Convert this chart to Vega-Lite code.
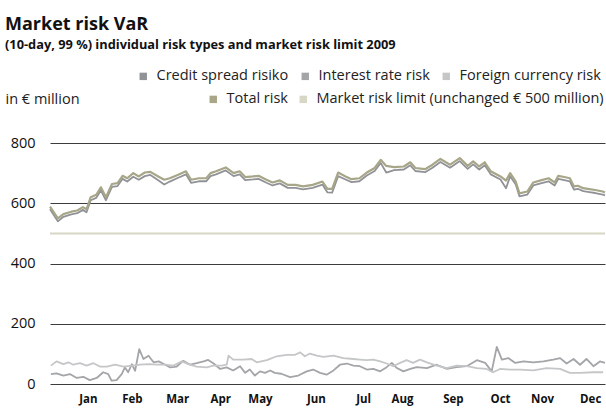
{
  "$schema": "https://vega.github.io/schema/vega-lite/v6.json",
  "autosize": {"type": "none"},
  "width": 555,
  "height": 241,
  "padding": {"left": 50, "top": 143, "right": 1, "bottom": 28},
  "background": "#ffffff",
  "config": {
    "view": {"stroke": null},
    "font": "Open Sans",
    "legend": {"labelFont": "Open Sans", "labelFontSize": 14.5, "labelColor": "#222222", "labelLimit": 400, "symbolType": "square", "symbolSize": 55, "columnPadding": 9, "labelOffset": 6, "padding": 0, "titlePadding": 0}
  },
  "title": {
    "text": "Market risk VaR",
    "subtitle": "(10-day, 99 %) individual risk types and market risk limit 2009",
    "anchor": "start",
    "frame": "group",
    "dx": -45,
    "offset": 17,
    "font": "Open Sans",
    "fontSize": 18,
    "fontWeight": "bold",
    "color": "#111111",
    "subtitleFont": "Open Sans",
    "subtitleFontSize": 12.8,
    "subtitleFontWeight": "bold",
    "subtitleColor": "#111111",
    "subtitlePadding": 5
  },
  "datasets": {
    "top": [
      {"t":0,"v":589,"s":"Total risk"},{"t":0.17,"v":550,"s":"Total risk"},{"t":0.29,"v":564,"s":"Total risk"},{"t":0.46,"v":572,"s":"Total risk"},{"t":0.59,"v":576,"s":"Total risk"},{"t":0.71,"v":587,"s":"Total risk"},{"t":0.79,"v":580,"s":"Total risk"},{"t":0.88,"v":620,"s":"Total risk"},{"t":1.0,"v":628,"s":"Total risk"},{"t":1.1,"v":653,"s":"Total risk"},{"t":1.21,"v":620,"s":"Total risk"},{"t":1.34,"v":664,"s":"Total risk"},{"t":1.46,"v":667,"s":"Total risk"},{"t":1.57,"v":691,"s":"Total risk"},{"t":1.67,"v":683,"s":"Total risk"},{"t":1.8,"v":700,"s":"Total risk"},{"t":1.92,"v":689,"s":"Total risk"},{"t":2.05,"v":702,"s":"Total risk"},{"t":2.17,"v":704,"s":"Total risk"},{"t":2.34,"v":689,"s":"Total risk"},{"t":2.47,"v":678,"s":"Total risk"},{"t":2.59,"v":683,"s":"Total risk"},{"t":2.76,"v":694,"s":"Total risk"},{"t":2.94,"v":706,"s":"Total risk"},{"t":3.05,"v":678,"s":"Total risk"},{"t":3.22,"v":683,"s":"Total risk"},{"t":3.38,"v":683,"s":"Total risk"},{"t":3.47,"v":700,"s":"Total risk"},{"t":3.59,"v":706,"s":"Total risk"},{"t":3.8,"v":719,"s":"Total risk"},{"t":3.97,"v":700,"s":"Total risk"},{"t":4.1,"v":706,"s":"Total risk"},{"t":4.22,"v":687,"s":"Total risk"},{"t":4.39,"v":689,"s":"Total risk"},{"t":4.51,"v":691,"s":"Total risk"},{"t":4.68,"v":678,"s":"Total risk"},{"t":4.81,"v":669,"s":"Total risk"},{"t":4.97,"v":676,"s":"Total risk"},{"t":5.14,"v":661,"s":"Total risk"},{"t":5.31,"v":661,"s":"Total risk"},{"t":5.47,"v":656,"s":"Total risk"},{"t":5.68,"v":661,"s":"Total risk"},{"t":5.89,"v":672,"s":"Total risk"},{"t":6.0,"v":648,"s":"Total risk"},{"t":6.1,"v":648,"s":"Total risk"},{"t":6.23,"v":702,"s":"Total risk"},{"t":6.39,"v":689,"s":"Total risk"},{"t":6.52,"v":680,"s":"Total risk"},{"t":6.69,"v":683,"s":"Total risk"},{"t":6.85,"v":702,"s":"Total risk"},{"t":7.02,"v":717,"s":"Total risk"},{"t":7.15,"v":744,"s":"Total risk"},{"t":7.27,"v":724,"s":"Total risk"},{"t":7.44,"v":720,"s":"Total risk"},{"t":7.65,"v":722,"s":"Total risk"},{"t":7.79,"v":736,"s":"Total risk"},{"t":7.9,"v":717,"s":"Total risk"},{"t":8.11,"v":713,"s":"Total risk"},{"t":8.27,"v":728,"s":"Total risk"},{"t":8.44,"v":747,"s":"Total risk"},{"t":8.65,"v":728,"s":"Total risk"},{"t":8.86,"v":750,"s":"Total risk"},{"t":9.03,"v":724,"s":"Total risk"},{"t":9.15,"v":739,"s":"Total risk"},{"t":9.28,"v":722,"s":"Total risk"},{"t":9.4,"v":736,"s":"Total risk"},{"t":9.53,"v":706,"s":"Total risk"},{"t":9.74,"v":689,"s":"Total risk"},{"t":9.86,"v":675,"s":"Total risk"},{"t":9.95,"v":700,"s":"Total risk"},{"t":10.07,"v":672,"s":"Total risk"},{"t":10.15,"v":633,"s":"Total risk"},{"t":10.32,"v":639,"s":"Total risk"},{"t":10.45,"v":669,"s":"Total risk"},{"t":10.61,"v":676,"s":"Total risk"},{"t":10.78,"v":683,"s":"Total risk"},{"t":10.91,"v":669,"s":"Total risk"},{"t":10.99,"v":691,"s":"Total risk"},{"t":11.12,"v":687,"s":"Total risk"},{"t":11.24,"v":683,"s":"Total risk"},{"t":11.33,"v":656,"s":"Total risk"},{"t":11.41,"v":658,"s":"Total risk"},{"t":11.53,"v":650,"s":"Total risk"},{"t":11.66,"v":647,"s":"Total risk"},{"t":11.79,"v":644,"s":"Total risk"},{"t":11.95,"v":639,"s":"Total risk"},{"t":12,"v":636,"s":"Total risk"}
    ],
    "low": [
      {"t":0,"v":580,"s":"Credit spread risiko"},{"t":0.17,"v":540,"s":"Credit spread risiko"},{"t":0.29,"v":555,"s":"Credit spread risiko"},{"t":0.46,"v":563,"s":"Credit spread risiko"},{"t":0.59,"v":567,"s":"Credit spread risiko"},{"t":0.71,"v":578,"s":"Credit spread risiko"},{"t":0.79,"v":570,"s":"Credit spread risiko"},{"t":0.88,"v":610,"s":"Credit spread risiko"},{"t":1.0,"v":618,"s":"Credit spread risiko"},{"t":1.1,"v":643,"s":"Credit spread risiko"},{"t":1.21,"v":610,"s":"Credit spread risiko"},{"t":1.34,"v":654,"s":"Credit spread risiko"},{"t":1.46,"v":657,"s":"Credit spread risiko"},{"t":1.57,"v":681,"s":"Credit spread risiko"},{"t":1.67,"v":672,"s":"Credit spread risiko"},{"t":1.8,"v":688,"s":"Credit spread risiko"},{"t":1.92,"v":678,"s":"Credit spread risiko"},{"t":2.05,"v":690,"s":"Credit spread risiko"},{"t":2.17,"v":694,"s":"Credit spread risiko"},{"t":2.34,"v":676,"s":"Credit spread risiko"},{"t":2.47,"v":662,"s":"Credit spread risiko"},{"t":2.59,"v":672,"s":"Credit spread risiko"},{"t":2.76,"v":684,"s":"Credit spread risiko"},{"t":2.94,"v":696,"s":"Credit spread risiko"},{"t":3.05,"v":668,"s":"Credit spread risiko"},{"t":3.22,"v":673,"s":"Credit spread risiko"},{"t":3.38,"v":673,"s":"Credit spread risiko"},{"t":3.47,"v":690,"s":"Credit spread risiko"},{"t":3.59,"v":696,"s":"Credit spread risiko"},{"t":3.8,"v":709,"s":"Credit spread risiko"},{"t":3.97,"v":690,"s":"Credit spread risiko"},{"t":4.1,"v":696,"s":"Credit spread risiko"},{"t":4.22,"v":677,"s":"Credit spread risiko"},{"t":4.39,"v":679,"s":"Credit spread risiko"},{"t":4.51,"v":681,"s":"Credit spread risiko"},{"t":4.68,"v":668,"s":"Credit spread risiko"},{"t":4.81,"v":659,"s":"Credit spread risiko"},{"t":4.97,"v":666,"s":"Credit spread risiko"},{"t":5.14,"v":651,"s":"Credit spread risiko"},{"t":5.31,"v":651,"s":"Credit spread risiko"},{"t":5.47,"v":646,"s":"Credit spread risiko"},{"t":5.68,"v":651,"s":"Credit spread risiko"},{"t":5.89,"v":662,"s":"Credit spread risiko"},{"t":6.0,"v":636,"s":"Credit spread risiko"},{"t":6.1,"v":635,"s":"Credit spread risiko"},{"t":6.23,"v":690,"s":"Credit spread risiko"},{"t":6.39,"v":679,"s":"Credit spread risiko"},{"t":6.52,"v":670,"s":"Credit spread risiko"},{"t":6.69,"v":673,"s":"Credit spread risiko"},{"t":6.85,"v":692,"s":"Credit spread risiko"},{"t":7.02,"v":707,"s":"Credit spread risiko"},{"t":7.15,"v":734,"s":"Credit spread risiko"},{"t":7.27,"v":702,"s":"Credit spread risiko"},{"t":7.44,"v":710,"s":"Credit spread risiko"},{"t":7.65,"v":712,"s":"Credit spread risiko"},{"t":7.79,"v":726,"s":"Credit spread risiko"},{"t":7.9,"v":707,"s":"Credit spread risiko"},{"t":8.11,"v":703,"s":"Credit spread risiko"},{"t":8.27,"v":718,"s":"Credit spread risiko"},{"t":8.44,"v":737,"s":"Credit spread risiko"},{"t":8.65,"v":718,"s":"Credit spread risiko"},{"t":8.86,"v":740,"s":"Credit spread risiko"},{"t":9.03,"v":714,"s":"Credit spread risiko"},{"t":9.15,"v":729,"s":"Credit spread risiko"},{"t":9.28,"v":712,"s":"Credit spread risiko"},{"t":9.4,"v":726,"s":"Credit spread risiko"},{"t":9.53,"v":696,"s":"Credit spread risiko"},{"t":9.74,"v":679,"s":"Credit spread risiko"},{"t":9.86,"v":650,"s":"Credit spread risiko"},{"t":9.95,"v":690,"s":"Credit spread risiko"},{"t":10.07,"v":662,"s":"Credit spread risiko"},{"t":10.15,"v":623,"s":"Credit spread risiko"},{"t":10.32,"v":629,"s":"Credit spread risiko"},{"t":10.45,"v":659,"s":"Credit spread risiko"},{"t":10.61,"v":666,"s":"Credit spread risiko"},{"t":10.78,"v":673,"s":"Credit spread risiko"},{"t":10.91,"v":659,"s":"Credit spread risiko"},{"t":10.99,"v":681,"s":"Credit spread risiko"},{"t":11.12,"v":677,"s":"Credit spread risiko"},{"t":11.24,"v":673,"s":"Credit spread risiko"},{"t":11.33,"v":645,"s":"Credit spread risiko"},{"t":11.41,"v":648,"s":"Credit spread risiko"},{"t":11.53,"v":640,"s":"Credit spread risiko"},{"t":11.66,"v":637,"s":"Credit spread risiko"},{"t":11.79,"v":634,"s":"Credit spread risiko"},{"t":11.95,"v":629,"s":"Credit spread risiko"},{"t":12,"v":626,"s":"Credit spread risiko"},
      {"t":0.02,"v":33,"s":"Interest rate risk"},{"t":0.14,"v":35,"s":"Interest rate risk"},{"t":0.29,"v":28,"s":"Interest rate risk"},{"t":0.43,"v":33,"s":"Interest rate risk"},{"t":0.58,"v":20,"s":"Interest rate risk"},{"t":0.72,"v":24,"s":"Interest rate risk"},{"t":0.86,"v":13,"s":"Interest rate risk"},{"t":1.01,"v":20,"s":"Interest rate risk"},{"t":1.15,"v":39,"s":"Interest rate risk"},{"t":1.26,"v":33,"s":"Interest rate risk"},{"t":1.33,"v":11,"s":"Interest rate risk"},{"t":1.44,"v":13,"s":"Interest rate risk"},{"t":1.55,"v":33,"s":"Interest rate risk"},{"t":1.62,"v":55,"s":"Interest rate risk"},{"t":1.69,"v":39,"s":"Interest rate risk"},{"t":1.77,"v":66,"s":"Interest rate risk"},{"t":1.84,"v":44,"s":"Interest rate risk"},{"t":1.93,"v":116,"s":"Interest rate risk"},{"t":2.02,"v":83,"s":"Interest rate risk"},{"t":2.13,"v":94,"s":"Interest rate risk"},{"t":2.24,"v":72,"s":"Interest rate risk"},{"t":2.35,"v":75,"s":"Interest rate risk"},{"t":2.49,"v":64,"s":"Interest rate risk"},{"t":2.6,"v":55,"s":"Interest rate risk"},{"t":2.74,"v":58,"s":"Interest rate risk"},{"t":2.88,"v":77,"s":"Interest rate risk"},{"t":3.03,"v":64,"s":"Interest rate risk"},{"t":3.17,"v":69,"s":"Interest rate risk"},{"t":3.32,"v":75,"s":"Interest rate risk"},{"t":3.42,"v":80,"s":"Interest rate risk"},{"t":3.53,"v":69,"s":"Interest rate risk"},{"t":3.68,"v":50,"s":"Interest rate risk"},{"t":3.82,"v":55,"s":"Interest rate risk"},{"t":3.96,"v":45,"s":"Interest rate risk"},{"t":4.11,"v":59,"s":"Interest rate risk"},{"t":4.22,"v":37,"s":"Interest rate risk"},{"t":4.32,"v":48,"s":"Interest rate risk"},{"t":4.43,"v":28,"s":"Interest rate risk"},{"t":4.54,"v":42,"s":"Interest rate risk"},{"t":4.65,"v":37,"s":"Interest rate risk"},{"t":4.76,"v":45,"s":"Interest rate risk"},{"t":4.86,"v":37,"s":"Interest rate risk"},{"t":5.0,"v":34,"s":"Interest rate risk"},{"t":5.19,"v":23,"s":"Interest rate risk"},{"t":5.37,"v":28,"s":"Interest rate risk"},{"t":5.55,"v":42,"s":"Interest rate risk"},{"t":5.69,"v":48,"s":"Interest rate risk"},{"t":5.84,"v":37,"s":"Interest rate risk"},{"t":5.98,"v":31,"s":"Interest rate risk"},{"t":6.13,"v":45,"s":"Interest rate risk"},{"t":6.27,"v":64,"s":"Interest rate risk"},{"t":6.42,"v":68,"s":"Interest rate risk"},{"t":6.56,"v":61,"s":"Interest rate risk"},{"t":6.7,"v":59,"s":"Interest rate risk"},{"t":6.85,"v":48,"s":"Interest rate risk"},{"t":6.99,"v":50,"s":"Interest rate risk"},{"t":7.14,"v":42,"s":"Interest rate risk"},{"t":7.28,"v":56,"s":"Interest rate risk"},{"t":7.39,"v":70,"s":"Interest rate risk"},{"t":7.5,"v":53,"s":"Interest rate risk"},{"t":7.64,"v":42,"s":"Interest rate risk"},{"t":7.79,"v":50,"s":"Interest rate risk"},{"t":7.93,"v":56,"s":"Interest rate risk"},{"t":8.15,"v":53,"s":"Interest rate risk"},{"t":8.36,"v":64,"s":"Interest rate risk"},{"t":8.58,"v":50,"s":"Interest rate risk"},{"t":8.79,"v":56,"s":"Interest rate risk"},{"t":9.01,"v":59,"s":"Interest rate risk"},{"t":9.23,"v":79,"s":"Interest rate risk"},{"t":9.41,"v":70,"s":"Interest rate risk"},{"t":9.55,"v":42,"s":"Interest rate risk"},{"t":9.66,"v":123,"s":"Interest rate risk"},{"t":9.77,"v":81,"s":"Interest rate risk"},{"t":9.91,"v":86,"s":"Interest rate risk"},{"t":10.06,"v":70,"s":"Interest rate risk"},{"t":10.24,"v":75,"s":"Interest rate risk"},{"t":10.45,"v":72,"s":"Interest rate risk"},{"t":10.67,"v":75,"s":"Interest rate risk"},{"t":10.88,"v":81,"s":"Interest rate risk"},{"t":11.03,"v":86,"s":"Interest rate risk"},{"t":11.17,"v":68,"s":"Interest rate risk"},{"t":11.32,"v":83,"s":"Interest rate risk"},{"t":11.46,"v":64,"s":"Interest rate risk"},{"t":11.6,"v":83,"s":"Interest rate risk"},{"t":11.75,"v":59,"s":"Interest rate risk"},{"t":11.89,"v":75,"s":"Interest rate risk"},{"t":12,"v":70,"s":"Interest rate risk"},
      {"t":0.02,"v":61,"s":"Foreign currency risk"},{"t":0.14,"v":75,"s":"Foreign currency risk"},{"t":0.29,"v":66,"s":"Foreign currency risk"},{"t":0.4,"v":72,"s":"Foreign currency risk"},{"t":0.5,"v":64,"s":"Foreign currency risk"},{"t":0.65,"v":69,"s":"Foreign currency risk"},{"t":0.79,"v":61,"s":"Foreign currency risk"},{"t":0.94,"v":69,"s":"Foreign currency risk"},{"t":1.08,"v":58,"s":"Foreign currency risk"},{"t":1.23,"v":58,"s":"Foreign currency risk"},{"t":1.41,"v":64,"s":"Foreign currency risk"},{"t":1.59,"v":58,"s":"Foreign currency risk"},{"t":1.77,"v":61,"s":"Foreign currency risk"},{"t":1.95,"v":64,"s":"Foreign currency risk"},{"t":2.13,"v":66,"s":"Foreign currency risk"},{"t":2.31,"v":64,"s":"Foreign currency risk"},{"t":2.49,"v":64,"s":"Foreign currency risk"},{"t":2.67,"v":61,"s":"Foreign currency risk"},{"t":2.85,"v":75,"s":"Foreign currency risk"},{"t":2.99,"v":66,"s":"Foreign currency risk"},{"t":3.17,"v":58,"s":"Foreign currency risk"},{"t":3.39,"v":55,"s":"Foreign currency risk"},{"t":3.53,"v":61,"s":"Foreign currency risk"},{"t":3.71,"v":61,"s":"Foreign currency risk"},{"t":3.82,"v":64,"s":"Foreign currency risk"},{"t":3.86,"v":94,"s":"Foreign currency risk"},{"t":3.96,"v":81,"s":"Foreign currency risk"},{"t":4.18,"v":81,"s":"Foreign currency risk"},{"t":4.36,"v":83,"s":"Foreign currency risk"},{"t":4.47,"v":72,"s":"Foreign currency risk"},{"t":4.69,"v":79,"s":"Foreign currency risk"},{"t":4.9,"v":92,"s":"Foreign currency risk"},{"t":5.12,"v":97,"s":"Foreign currency risk"},{"t":5.3,"v":97,"s":"Foreign currency risk"},{"t":5.41,"v":105,"s":"Foreign currency risk"},{"t":5.51,"v":92,"s":"Foreign currency risk"},{"t":5.62,"v":101,"s":"Foreign currency risk"},{"t":5.77,"v":94,"s":"Foreign currency risk"},{"t":5.91,"v":90,"s":"Foreign currency risk"},{"t":6.13,"v":94,"s":"Foreign currency risk"},{"t":6.34,"v":86,"s":"Foreign currency risk"},{"t":6.56,"v":83,"s":"Foreign currency risk"},{"t":6.7,"v":81,"s":"Foreign currency risk"},{"t":6.85,"v":79,"s":"Foreign currency risk"},{"t":6.99,"v":81,"s":"Foreign currency risk"},{"t":7.14,"v":75,"s":"Foreign currency risk"},{"t":7.28,"v":68,"s":"Foreign currency risk"},{"t":7.42,"v":59,"s":"Foreign currency risk"},{"t":7.57,"v":70,"s":"Foreign currency risk"},{"t":7.71,"v":79,"s":"Foreign currency risk"},{"t":7.85,"v":70,"s":"Foreign currency risk"},{"t":8.0,"v":81,"s":"Foreign currency risk"},{"t":8.15,"v":72,"s":"Foreign currency risk"},{"t":8.36,"v":61,"s":"Foreign currency risk"},{"t":8.58,"v":53,"s":"Foreign currency risk"},{"t":8.79,"v":61,"s":"Foreign currency risk"},{"t":9.01,"v":59,"s":"Foreign currency risk"},{"t":9.23,"v":53,"s":"Foreign currency risk"},{"t":9.44,"v":50,"s":"Foreign currency risk"},{"t":9.58,"v":39,"s":"Foreign currency risk"},{"t":9.73,"v":50,"s":"Foreign currency risk"},{"t":9.95,"v":48,"s":"Foreign currency risk"},{"t":10.16,"v":48,"s":"Foreign currency risk"},{"t":10.45,"v":45,"s":"Foreign currency risk"},{"t":10.74,"v":53,"s":"Foreign currency risk"},{"t":11.03,"v":50,"s":"Foreign currency risk"},{"t":11.24,"v":37,"s":"Foreign currency risk"},{"t":11.46,"v":37,"s":"Foreign currency risk"},{"t":11.75,"v":39,"s":"Foreign currency risk"},{"t":11.96,"v":39,"s":"Foreign currency risk"}
    ],
    "limit": [{"v": 500, "s": "Market risk limit (unchanged € 500 million)"}]
  },
  "encoding": {
    "x": {
      "field": "t", "type": "quantitative",
      "scale": {"domain": [0, 12], "nice": false, "zero": false},
      "axis": {
        "title": null, "grid": false, "ticks": false, "domain": false,
        "values": [0.82, 1.77, 2.75, 3.68, 4.54, 5.75, 6.77, 7.61, 8.71, 9.73, 10.64, 11.68],
        "labelExpr": "['Jan','Feb','Mar','Apr','May','Jun','Jul','Aug','Sep','Oct','Nov','Dec'][floor(datum.value)]",
        "labelFont": "Open Sans", "labelFontSize": 11.5, "labelFontWeight": "bold", "labelColor": "#111111",
        "labelPadding": 9, "labelFlush": false, "labelOverlap": false
      }
    },
    "y": {
      "field": "v", "type": "quantitative",
      "scale": {"domain": [0, 800], "nice": false},
      "axis": {
        "values": [0, 200, 400, 600, 800],
        "grid": true, "gridColor": "#3d3d3d", "gridWidth": 1.2, "gridOpacity": 1,
        "ticks": false, "domain": false,
        "labelFont": "Open Sans", "labelFontSize": 14.5, "labelColor": "#111111", "labelPadding": 15,
        "title": "in € million", "titleAngle": 0, "titleX": -45, "titleY": -40,
        "titleAlign": "left", "titleBaseline": "alphabetic",
        "titleFont": "Open Sans", "titleFontSize": 14.5, "titleFontWeight": "normal", "titleColor": "#222222"
      }
    }
  },
  "layer": [
    {
      "data": {"name": "low"},
      "mark": {"type": "line", "strokeWidth": 1.8, "strokeJoin": "round"},
      "encoding": {
        "color": {
          "field": "s", "type": "nominal",
          "scale": {"domain": ["Credit spread risiko", "Interest rate risk", "Foreign currency risk"], "range": ["#909296", "#a3a5a8", "#c5c6c8"]},
          "legend": {
            "title": null, "orient": "none", "direction": "horizontal",
            "legendX": 86, "legendY": -74,
            "encode": {"symbols": {"update": {"fill": {"scale": "color", "field": "value"}, "strokeWidth": {"value": 0}}}}
          }
        }
      }
    },
    {
      "data": {"name": "limit"},
      "mark": {"type": "rule", "strokeWidth": 2},
      "encoding": {
        "x": null,
        "y": {"field": "v", "type": "quantitative"},
        "stroke": {
          "field": "s",
          "type": "nominal",
          "scale": {"domain": ["Total risk", "Market risk limit (unchanged € 500 million)"], "range": ["#a7a689", "#d8d7c5"]},
          "legend": {
            "title": null, "orient": "none", "direction": "horizontal",
            "legendX": 156, "legendY": -51, "columnPadding": 8,
            "encode": {"symbols": {"update": {"fill": {"scale": "stroke", "field": "value"}, "strokeWidth": {"value": 0}}}}
          }
        }
      }
    },
    {
      "data": {"name": "top"},
      "mark": {"type": "line", "strokeWidth": 2.2, "strokeJoin": "round"},
      "encoding": {
        "stroke": {"field": "s", "type": "nominal", "legend": {"title": null, "orient": "none", "direction": "horizontal", "legendX": 156, "legendY": -51, "columnPadding": 8}}
      }
    }
  ]
}
